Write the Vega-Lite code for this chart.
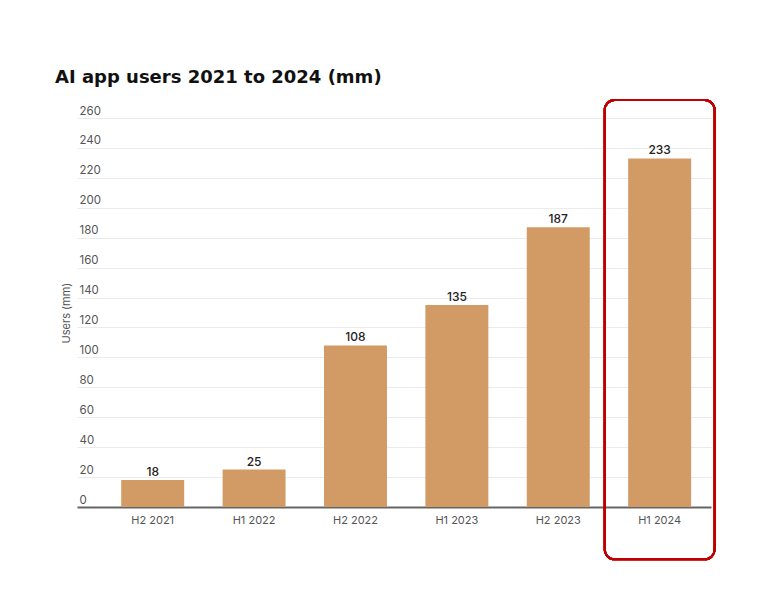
{
  "$schema": "https://vega.github.io/schema/vega-lite/v6.json",
  "width": 634,
  "height": 389,
  "padding": {"left": 55, "top": 69, "right": 5, "bottom": 5},
  "background": "white",
  "title": {
    "text": "AI app users 2021 to 2024 (mm)",
    "anchor": "start",
    "frame": "bounds",
    "font": "DejaVu Sans",
    "fontSize": 18,
    "fontWeight": 700,
    "color": "#111111",
    "offset": 12,
    "dx": -5
  },
  "config": {
    "font": "Inter",
    "view": {"stroke": null}
  },
  "data": {
    "values": [
      {"period": "H2 2021", "users": 18},
      {"period": "H1 2022", "users": 25},
      {"period": "H2 2022", "users": 108},
      {"period": "H1 2023", "users": 135},
      {"period": "H2 2023", "users": 187},
      {"period": "H1 2024", "users": 233}
    ]
  },
  "layer": [
    {
      "mark": {"type": "bar", "color": "#D29B65"},
      "encoding": {
        "x": {
          "field": "period",
          "type": "nominal",
          "sort": null,
          "scale": {"paddingInner": 0.379, "paddingOuter": 0.316, "align": 0.69},
          "axis": {
            "title": null,
            "labelAngle": 0,
            "labelFontSize": 11,
            "labelColor": "#555555",
            "labelPadding": 7,
            "ticks": false,
            "domainColor": "#666666",
            "domainWidth": 2,
            "grid": false
          }
        },
        "y": {
          "field": "users",
          "type": "quantitative",
          "scale": {"domain": [0, 260], "nice": false},
          "axis": {
            "title": "Users (mm)",
            "titleFontSize": 11,
            "titleFontWeight": 400,
            "titleColor": "#555555",
            "titlePadding": 6,
            "values": [0, 20, 40, 60, 80, 100, 120, 140, 160, 180, 200, 220, 240, 260],
            "tickCount": 20,
            "labelOverlap": false,
            "grid": true,
            "gridColor": "#ebebeb",
            "gridWidth": 1,
            "domain": false,
            "ticks": false,
            "tickSize": 0,
            "labelAlign": "left",
            "labelPadding": -2,
            "labelBaseline": "alphabetic",
            "labelOffset": -4,
            "labelFontSize": 11.5,
            "labelColor": "#555555"
          }
        }
      }
    },
    {
      "mark": {"type": "text", "baseline": "alphabetic", "dy": -4, "fontSize": 12, "fontWeight": 500, "color": "#222222"},
      "encoding": {
        "x": {"field": "period", "type": "nominal", "sort": null},
        "y": {"field": "users", "type": "quantitative"},
        "text": {"field": "users", "type": "quantitative"}
      }
    },
    {
      "mark": {
        "type": "bar",
        "fill": "transparent",
        "stroke": "#C00000",
        "strokeWidth": 2,
        "cornerRadius": 10,
        "width": {"band": 1.746}
      },
      "encoding": {
        "x": {"datum": "H1 2024", "type": "nominal"},
        "y": {"datum": 272, "type": "quantitative"},
        "y2": {"datum": -35}
      }
    }
  ]
}
